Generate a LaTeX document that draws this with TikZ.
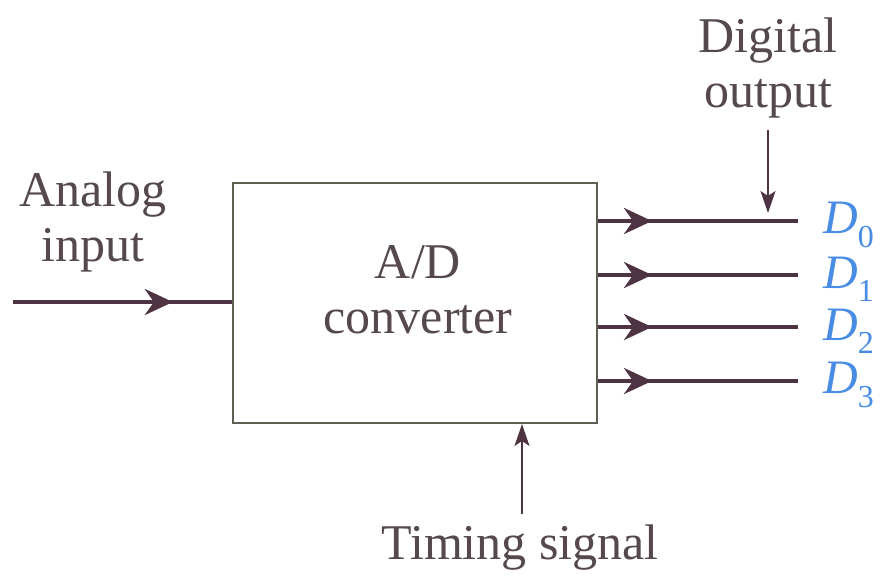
\documentclass[tikz,border=0pt]{standalone}
\usepackage{fontspec}
\setmainfont{Liberation Serif}
\usetikzlibrary{arrows.meta,decorations.markings}
\definecolor{sigcol}{RGB}{78,52,66}
\definecolor{txtcol}{RGB}{85,72,78}
\definecolor{boxcol}{RGB}{92,96,82}
\definecolor{dblue}{RGB}{72,140,228}
\newcommand{\dsub}[1]{\raisebox{-0.28em}{\fontsize{32}{32}\selectfont #1}}
\tikzset{
  sig/.style={draw=sigcol,line width=4pt,postaction={decorate},
    decoration={markings,mark=at position #1 with {\arrow{Stealth[length=28pt,width=26pt,inset=9pt]}}}},
  thin arrow/.style={draw=sigcol,line width=1.6pt,-{Stealth[length=22pt,width=15pt,inset=5pt]}},
  lbl/.style={text=txtcol,font=\fontsize{50}{55}\selectfont,align=center,inner sep=0pt},
  dlbl/.style={text=dblue,font=\fontsize{48}{54}\selectfont,anchor=west,inner sep=0pt},
  adcbox/.style={draw=boxcol,line width=2pt,minimum width=364pt,minimum height=240pt,inner sep=0pt}
}
\begin{document}
\begin{tikzpicture}[x=1pt,y=-1pt]
\useasboundingbox[fill=white] (0,0) rectangle (891,582);
\node[adcbox] (adc) at (415,303) {};
\node[lbl] (adctxt) at (418,290) {A/D\\converter};
% analog input
\node[lbl] (ain) at (93,222) {Analog\\input};
\coordinate (inp) at (13,302);
\path[sig=0.73] (inp) -- (inp -| adc.west);
% outputs
\foreach \i/\y in {0/221,1/275,2/327,3/381}{
  \coordinate (o\i) at (798,\y);
  \path[sig=0.27] (o\i -| adc.east) -- (o\i);
  \node[dlbl] (d\i) at (823,\y+4) {\textit{D}\dsub{\i}};
}
% digital output
\node[lbl] (dig) at (768,68) {Digital\\output};
\coordinate (dtip) at (768,213);
\draw[thin arrow] (768,130) -- (dtip);
% timing signal
\node[lbl] (tim) at (520,548) {Timing signal};
\coordinate (tstart) at (522,514);
\draw[thin arrow] (tstart) -- (tstart |- adc.south);
\end{tikzpicture}
\end{document}
